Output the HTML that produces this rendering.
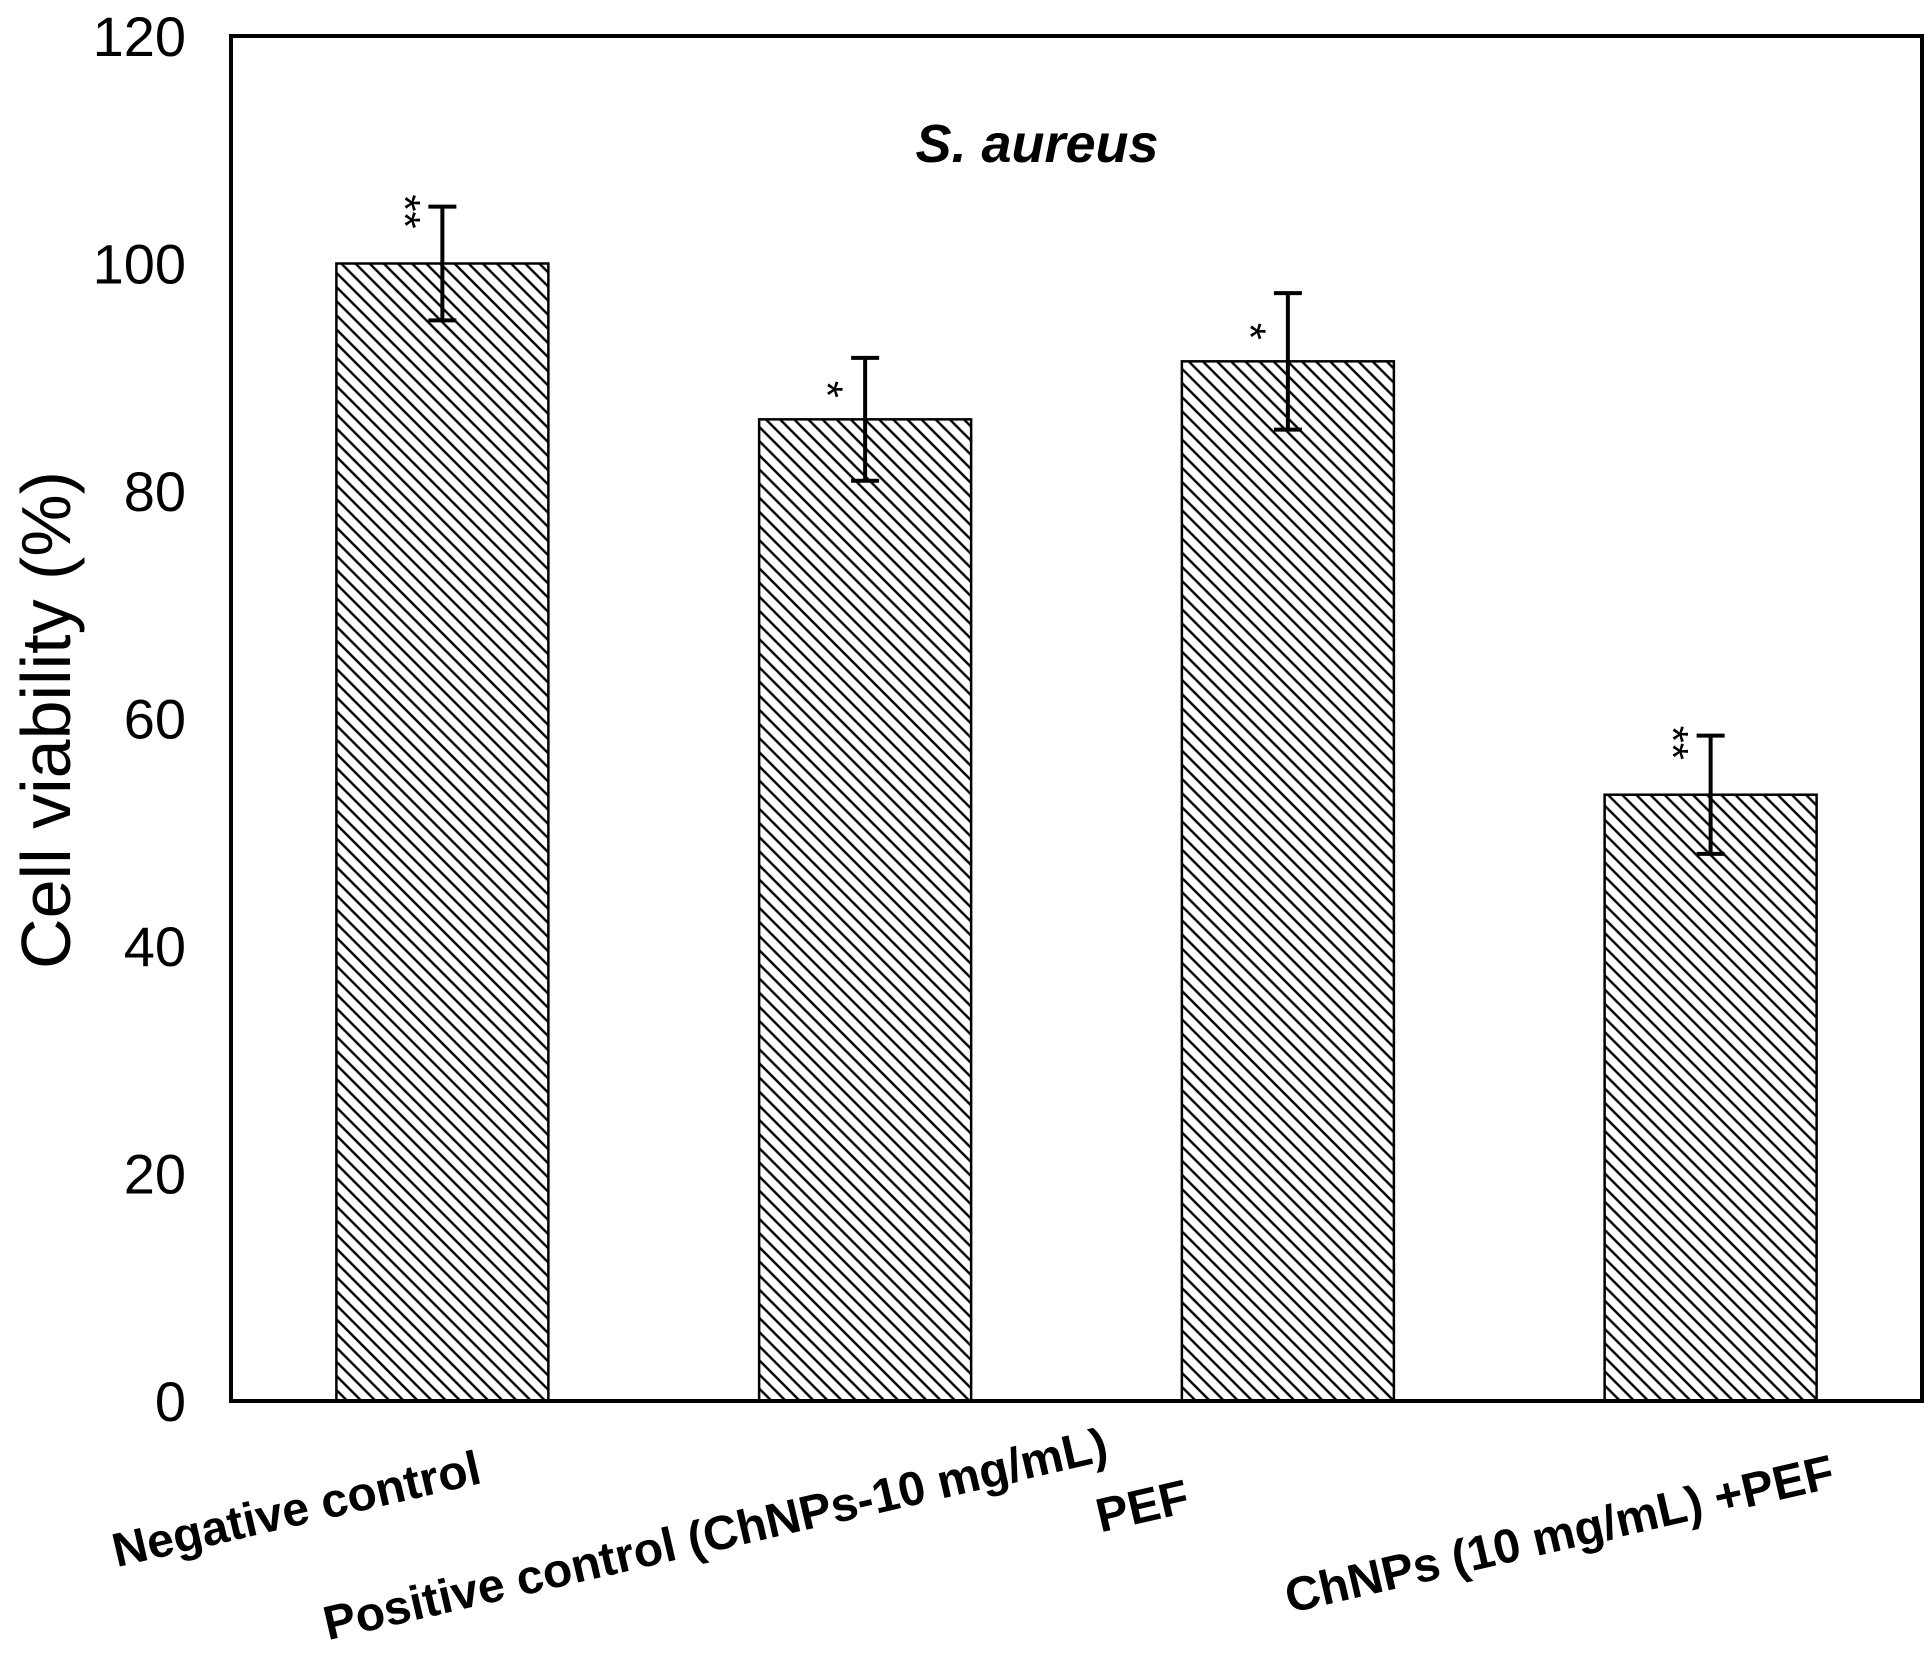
<!DOCTYPE html>
<html><head><meta charset="utf-8"><style>
body{margin:0;background:#fff}
svg{display:block;font-family:"Liberation Sans",sans-serif}
</style></head><body>
<svg id="chart" width="1932" height="1660" viewBox="0 0 1932 1660">
<defs>
<pattern id="hatch" patternUnits="userSpaceOnUse" width="10" height="10" patternTransform="rotate(-45)">
<rect width="10" height="10" fill="#fff"/>
<line x1="5" y1="0" x2="5" y2="10" stroke="#000" stroke-width="2.4"/>
</pattern>
</defs>
<g id="plot"></g>
</svg>
<script>
const categories=["Negative control","Positive control (ChNPs-10 mg/mL)","PEF","ChNPs (10 mg/mL) +PEF"];
const values=[100,86.3,91.4,53.3];
const errors=[5,5.4,6,5.2];
const stars=["**","*","*","**"];
const yTicks=[0,20,40,60,80,100,120];
const L=231,R=1922,T=36,B=1401,yMax=120;
const y=v=>B-(v/yMax)*(B-T);
const band=(R-L)/categories.length;
const xc=i=>L+band*(i+0.5);
const bw=212;
const NS="http://www.w3.org/2000/svg";
const g=document.getElementById('plot');
function mk(tag,attrs,text){const e=document.createElementNS(NS,tag);for(const k in attrs)e.setAttribute(k,attrs[k]);if(text!==undefined)e.textContent=text;g.appendChild(e);return e;}
values.forEach((v,i)=>{
  const b=mk('rect',{x:xc(i)-bw/2,y:y(v),width:bw,height:B-y(v),fill:'url(#hatch)',stroke:'#000','stroke-width':2.5});
  
  
  const e=mk('path',{d:`M${xc(i)} ${y(v+errors[i])}V${y(v-errors[i])}M${xc(i)-14} ${y(v+errors[i])}H${xc(i)+14}M${xc(i)-14} ${y(v-errors[i])}H${xc(i)+14}`,stroke:'#000','stroke-width':4,fill:'none'});
  
  
  const off=stars[i].length>1?52:30;
  const s=mk('text',{x:0,y:0,'font-size':44,'text-anchor':'middle','dominant-baseline':'central',transform:`translate(${xc(i)-38},${y(v)-off}) rotate(90)`},stars[i]);
  
  
});
const frame=mk('rect',{x:L,y:T,width:R-L,height:B-T,fill:'none',stroke:'#000','stroke-width':4});


yTicks.forEach(t=>{
  const tl=mk('text',{x:L-45,y:y(t)+20,'font-size':56,'text-anchor':'end'},t);
  
  
});
const xl=[[300,1525],[719,1550],[1146,1522],[1563,1550]];
categories.forEach((c,i)=>{
  const t=mk('text',{x:0,y:0,'font-size':48,'font-weight':'bold','text-anchor':'middle',transform:`translate(${xl[i][0]},${xl[i][1]}) rotate(-13)`},c);
  
  
});
const yt=mk('text',{x:0,y:0,'font-size':70,'text-anchor':'middle',transform:'translate(70,720) rotate(-90)'},'Cell viability (%)');


const ti=mk('text',{x:1037,y:162,'font-size':54,'font-weight':'bold','font-style':'italic','text-anchor':'middle'},'S. aureus');


</script>
</body></html>
